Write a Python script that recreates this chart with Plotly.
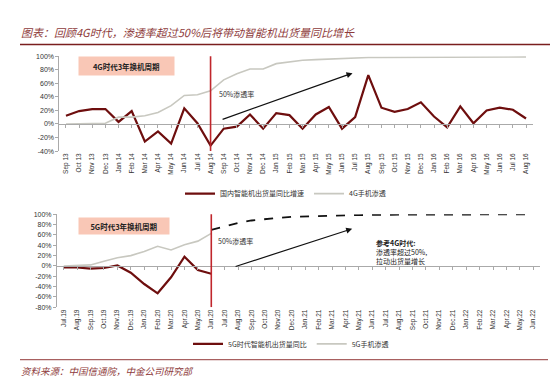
import plotly.graph_objects as go

# ---------------- data ----------------
months_4g = ["Sep 13", "Oct 13", "Nov 13", "Dec 13", "Jan 14", "Feb 14", "Mar 14", "Apr 14",
             "May 14", "Jun 14", "Jul 14", "Aug 14", "Sep 14", "Oct 14", "Nov 14", "Dec 14",
             "Jan 15", "Feb 15", "Mar 15", "Apr 15", "May 15", "Jun 15", "Jul 15", "Aug 15",
             "Sep 15", "Oct 15", "Nov 15", "Dec 15", "Jan 16", "Feb 16", "Mar 16", "Apr 16",
             "May 16", "Jun 16", "Jul 16", "Aug 16"]
ship_4g = [12, 19, 22, 22, 3, 19, -26, -11, -29, 23, 1, -32,
           -7, -4, 14, -7, 16, 13, -7, 14, 25, -7, 10, 72,
           24, 18, 22, 32, 11, -5, 26, 1, 20, 24, 21, 8]
pen_4g = [0, 0, 0, 1, 10, 10, 12, 17, 27, 42, 43, 49,
          65, 74, 81, 81, 89, 92, 94, 95, 96, 97, 97, 98,
          98, 98, 98, 99, 99, 99, 99, 99, 99, 99, 99, 99]

months_5g = ["Jul.19", "Aug.19", "Sep.19", "Oct.19", "Nov.19", "Dec.19", "Jan.20", "Feb.20",
             "Mar.20", "Apr.20", "May.20", "Jun.20", "Jul.20", "Aug.20", "Sep.20", "Oct.20",
             "Nov.20", "Dec.20", "Jan.21", "Feb.21", "Mar.21", "Apr.21", "May.21", "Jun.21",
             "Jul.21", "Aug.21", "Sep.21", "Oct.21", "Nov.21", "Dec.21", "Jan.22", "Feb.22",
             "Mar.22", "Apr.22", "May.22", "Jun.22"]
ship_5g = [-3, -3, -5, -4, 1, -13, -35, -53, -22, 18, -8, -15] + [None] * 24
pen_5g = [0, 1, 2, 9, 16, 20, 28, 38, 31, 41, 48, 63] + [None] * 24
proj_5g = [None] * 11 + [70, 77, 83, 88, 91, 93, 95, 96, 97, 97.5,
                         98, 98.5, 99, 99, 99.5, 99.5, 100, 100, 100, 100,
                         100, 100, 100, 100, 100]

yt_top = [-40, -20, 0, 20, 40, 60, 80, 100]
yt_bot = [-80, -60, -40, -20, 0, 20, 40, 60, 80, 100]

# ---------------- styles ----------------
W, H = 558, 388
BROWN = "#6E0E0E"
GREY = "#C8C8C0"
RED = "#C0262C"
PINK = "#F9C7B6"
TITLE_C = "#8E3B3B"
FONT = "Liberation Sans, Noto Sans CJK SC, sans-serif"
CJK = "Noto Sans CJK SC, sans-serif"

def px_x(p):
    return p / W

def px_y(p):
    return 1 - p / H

top_xd = [px_x(51.4), px_x(524.6)]
top_yd = [px_y(141.6), px_y(45)]
bot_xd = [px_x(49), px_x(532)]
bot_yd = [px_y(300.7), px_y(206)]

top_zero = top_yd[0] + (top_yd[1] - top_yd[0]) * 40 / 140
bot_zero = bot_yd[0] + (bot_yd[1] - bot_yd[0]) * 80 / 180

fig = go.Figure()

fig.add_trace(go.Scatter(x=months_4g, y=ship_4g, mode="lines", name="国内智能机出货量同比增速",
                         line=dict(color=BROWN, width=2.2), xaxis="x", yaxis="y", legend="legend"))
fig.add_trace(go.Scatter(x=months_4g, y=pen_4g, mode="lines", name="4G手机渗透",
                         line=dict(color=GREY, width=1.6), xaxis="x", yaxis="y", legend="legend"))

fig.add_trace(go.Scatter(x=months_5g, y=ship_5g, mode="lines", name="5G时代智能机出货量同比",
                         line=dict(color=BROWN, width=2.2), xaxis="x2", yaxis="y2", legend="legend2"))
fig.add_trace(go.Scatter(x=months_5g, y=pen_5g, mode="lines", name="5G手机渗透",
                         line=dict(color=GREY, width=1.6), xaxis="x2", yaxis="y2", legend="legend2"))
fig.add_trace(go.Scatter(x=months_5g, y=proj_5g, mode="lines", name="projection", showlegend=False,
                         line=dict(color="#111111", width=1.8, dash="dash"), xaxis="x2", yaxis="y2"))

tickfont = dict(family=FONT, size=6.5, color="#333333")
yfont = dict(family=FONT, size=7, color="#333333")

fig.update_layout(
    width=W, height=H,
    margin=dict(l=0, r=0, t=0, b=0),
    paper_bgcolor="white", plot_bgcolor="rgba(0,0,0,0)",
    font=dict(family=CJK, size=7, color="#333333"),
    xaxis=dict(domain=top_xd, anchor="y", type="category", range=[-0.5, 35.5],
               tickangle=-90, tickfont=tickfont, showline=False, ticks="", showgrid=False),
    xaxis3=dict(overlaying="x", anchor="free", position=top_zero, range=[-0.5, 35.5],
                tick0=0, dtick=1, ticks="outside", ticklen=3, tickcolor="#AAAAAA",
                showticklabels=False, showline=True, linecolor="#AAAAAA", linewidth=1, showgrid=False,
                zeroline=False),
    yaxis=dict(domain=top_yd, anchor="x", range=[-40, 100], tickvals=yt_top,
               ticktext=[f"{v}%" for v in yt_top], tickfont=yfont, showgrid=False, zeroline=False,
               showline=True, linecolor="#AAAAAA", ticks="outside", ticklen=3, tickcolor="#AAAAAA"),
    xaxis2=dict(domain=bot_xd, anchor="y2", type="category", range=[-0.5, 35.5],
                tickangle=-90, tickfont=tickfont, showline=False, ticks="", showgrid=False),
    xaxis4=dict(overlaying="x2", anchor="free", position=bot_zero, range=[-0.5, 35.5],
                tick0=0, dtick=1, ticks="outside", ticklen=3, tickcolor="#AAAAAA",
                showticklabels=False, showline=True, linecolor="#AAAAAA", linewidth=1, showgrid=False,
                zeroline=False),
    yaxis2=dict(domain=bot_yd, anchor="x2", range=[-80, 100], tickvals=yt_bot,
                ticktext=[f"{v}%" for v in yt_bot], tickfont=yfont, showgrid=False, zeroline=False,
                showline=True, linecolor="#AAAAAA", ticks="outside", ticklen=3, tickcolor="#AAAAAA"),
    legend=dict(orientation="h", x=px_x(172), y=px_y(185), xanchor="left", yanchor="middle",
                font=dict(family=CJK, size=7, color="#333333"), itemwidth=30, bgcolor="rgba(0,0,0,0)",
                tracegroupgap=0),
    legend2=dict(orientation="h", x=px_x(180), y=px_y(338), xanchor="left", yanchor="middle",
                 font=dict(family=CJK, size=7, color="#333333"), itemwidth=30, bgcolor="rgba(0,0,0,0)"),
)

# invisible helpers to activate the zero-line overlay axes
fig.add_trace(go.Scatter(x=[0], y=[0], xaxis="x3", yaxis="y", mode="markers",
                         marker=dict(opacity=0), showlegend=False, hoverinfo="skip"))
fig.add_trace(go.Scatter(x=[0], y=[0], xaxis="x4", yaxis="y2", mode="markers",
                         marker=dict(opacity=0), showlegend=False, hoverinfo="skip"))

shapes = [
    dict(type="line", xref="paper", yref="paper", x0=px_x(12), x1=px_x(543), y0=px_y(33), y1=px_y(33),
         line=dict(color="#7A1E1E", width=1.5)),
    dict(type="line", xref="paper", yref="paper", x0=px_x(12), x1=px_x(540), y0=px_y(354), y1=px_y(354),
         line=dict(color="#A86060", width=1.2)),
    dict(type="line", xref="x", yref="y", x0="Aug 14", x1="Aug 14", y0=-40, y1=104,
         line=dict(color=RED, width=1.6)),
    dict(type="line", xref="x2", yref="y2", x0="Jun.20", x1="Jun.20", y0=-80, y1=108,
         line=dict(color=RED, width=1.6)),
]
fig.update_layout(shapes=shapes)

ann = [
    dict(text="<i>图表：回顾4G时代，渗透率超过50%后将带动智能机出货量同比增长</i>", xref="paper", yref="paper",
         x=px_x(11), y=px_y(20), xanchor="left", yanchor="middle", showarrow=False,
         font=dict(family=CJK, size=11, color=TITLE_C)),
    dict(text="<i>资料来源：中国信通院，中金公司研究部</i>", xref="paper", yref="paper",
         x=px_x(11), y=px_y(366), xanchor="left", yanchor="middle", showarrow=False,
         font=dict(family=CJK, size=9.5, color=TITLE_C)),
    dict(text="<b>4G时代3年换机周期</b>", xref="paper", yref="paper", x=px_x(70), y=px_y(45),
         xanchor="left", yanchor="top", showarrow=False, width=95, height=18, bgcolor=PINK,
         borderpad=0, font=dict(family=CJK, size=7.5, color="#222222")),
    dict(text="<b>5G时代3年换机周期</b>", xref="paper", yref="paper", x=px_x(70), y=px_y(209),
         xanchor="left", yanchor="top", showarrow=False, width=90, height=16, bgcolor=PINK,
         borderpad=0, font=dict(family=CJK, size=7.5, color="#222222")),
    dict(text="50%渗透率", xref="paper", yref="paper", x=px_x(209), y=px_y(83), xanchor="left",
         yanchor="middle", showarrow=False, font=dict(family=CJK, size=7, color="#333333")),
    dict(text="50%渗透率", xref="paper", yref="paper", x=px_x(208), y=px_y(233), xanchor="left",
         yanchor="middle", showarrow=False, font=dict(family=CJK, size=7, color="#333333")),
    dict(text="<b>参考4G时代:</b><br>渗透率超过50%,<br>拉动出货量增长", xref="paper", yref="paper",
         x=px_x(366), y=px_y(228), xanchor="left", yanchor="top", align="left", showarrow=False,
         font=dict(family=CJK, size=7, color="#222222")),
    dict(x=21.8, y=75, xref="x3", yref="y", ax=11.8, ay=6, axref="x3", ayref="y", text="",
         showarrow=True, arrowhead=2, arrowsize=1, arrowwidth=1.2, arrowcolor="#111111"),
    dict(x=21.5, y=72, xref="x4", yref="y2", ax=12.7, ay=-2, axref="x4", ayref="y2", text="",
         showarrow=True, arrowhead=2, arrowsize=1, arrowwidth=1.2, arrowcolor="#111111"),
]
fig.update_layout(annotations=ann)

fig.write_html("out.html")
